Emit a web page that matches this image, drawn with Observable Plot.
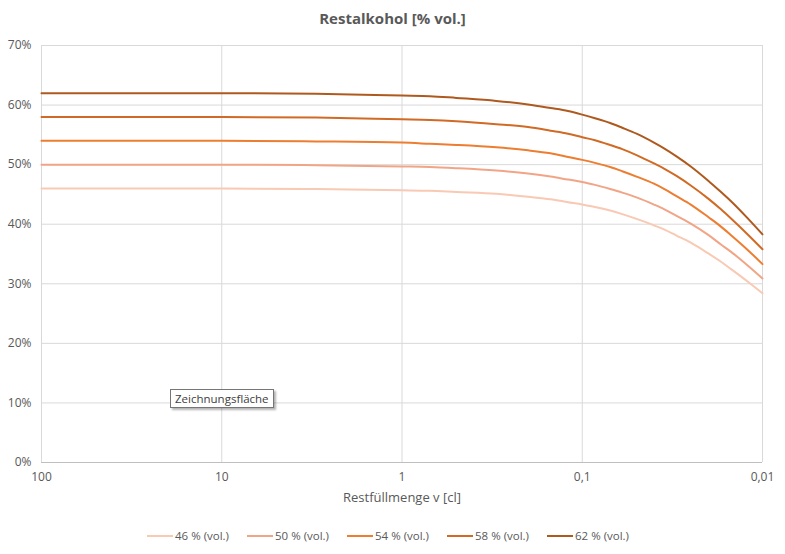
<!DOCTYPE html>
<html><head><meta charset="utf-8">
<script src="https://cdn.jsdelivr.net/npm/d3@7"></script>
<script src="https://cdn.jsdelivr.net/npm/@observablehq/plot@0.6"></script>
<style>
body{margin:0;background:#fff;font-family:"Open Sans",sans-serif;}
#wrap{position:relative;width:785px;height:554px;}
#title{height:32px;line-height:36px;text-align:center;font-size:15px;font-weight:bold;color:#595959;}
#legend{display:flex;justify-content:flex-start;font-size:11.5px;color:#595959;margin-top:13px;padding-left:147px}
#legend .it{display:flex;align-items:center;width:100px;}
#legend .sw{width:26px;height:2px;margin-right:2px}
#tip{position:absolute;left:170px;top:389px;padding:1px 4px;font-size:11.5px;color:#404040;background:#fff;border:1px solid #767676;box-shadow:2px 2px 2px rgba(0,0,0,0.3);}
svg text{font-family:"Open Sans",sans-serif}
</style></head>
<body><div id="wrap"><div id="title">Restalkohol [% vol.]</div><div id="chart"></div><div id="legend"></div><div id="tip">Zeichnungsfläche</div></div>
<script>
const xValues = [100, 30, 10, 3, 1, 0.7, 0.5, 0.3, 0.2, 0.15, 0.12, 0.1, 0.085, 0.07, 0.06, 0.05, 0.04, 0.035, 0.03, 0.025, 0.02, 0.017, 0.015, 0.012, 0.01];
const series = ["46 % (vol.)", "50 % (vol.)", "54 % (vol.)", "58 % (vol.)", "62 % (vol.)"];
const s46 = [46.0, 46.0, 46.0, 45.9, 45.7, 45.6, 45.4, 45.1, 44.6, 44.2, 43.7, 43.3, 42.9, 42.3, 41.7, 40.9, 39.8, 39.1, 38.1, 36.9, 35.1, 33.7, 32.5, 30.3, 28.4];
const s50 = [50.0, 50.0, 50.0, 49.9, 49.7, 49.6, 49.4, 49.0, 48.5, 48.0, 47.5, 47.1, 46.6, 45.9, 45.3, 44.5, 43.3, 42.5, 41.4, 40.1, 38.2, 36.6, 35.4, 33.0, 30.9];
const s54 = [54.0, 54.0, 54.0, 53.9, 53.7, 53.5, 53.3, 52.9, 52.4, 51.9, 51.3, 50.8, 50.3, 49.6, 48.9, 48.0, 46.8, 45.9, 44.7, 43.3, 41.2, 39.6, 38.2, 35.6, 33.3];
const s58 = [58.0, 58.0, 58.0, 57.9, 57.6, 57.5, 57.3, 56.8, 56.3, 55.7, 55.2, 54.6, 54.1, 53.3, 52.6, 51.6, 50.2, 49.3, 48.1, 46.5, 44.3, 42.5, 41.0, 38.2, 35.8];
const s62 = [62.0, 62.0, 62.0, 61.9, 61.6, 61.5, 61.2, 60.7, 60.1, 59.5, 59.0, 58.4, 57.8, 57.0, 56.2, 55.2, 53.7, 52.7, 51.4, 49.7, 47.3, 45.4, 43.9, 40.9, 38.3];
const colors = ["#f8c9b3", "#f1a586", "#ed7d31", "#d06a25", "#ae5a1f"];
const xTicks = [100, 10, 1, 0.1, 0.01];
const yTicks = [0, 10, 20, 30, 40, 50, 60, 70];

const all = [s46, s50, s54, s58, s62];
const data = [];
all.forEach((arr, i) => arr.forEach((v, j) => data.push({x: xValues[j], y: v, s: series[i]})));

const chart = Plot.plot({
  width: 785, height: 483,
  marginLeft: 41, marginRight: 23, marginTop: 13, marginBottom: 53,
  style: {fontSize: "12px", color: "#595959", fontFamily: "Open Sans"},
  x: {type: "log", domain: [100, 0.01], ticks: xTicks, tickFormat: d => String(d).replace(".", ","), label: null},
  y: {domain: [0, 70], ticks: yTicks, tickFormat: d => d + "%", label: null},
  color: {domain: series, range: colors},
  marks: [
    Plot.gridX(xTicks, {stroke: "#d9d9d9", strokeOpacity: 1}),
    Plot.gridY(yTicks.filter(d => d > 0), {stroke: "#d9d9d9", strokeOpacity: 1}),
    Plot.ruleY([0], {stroke: "#bfbfbf"}),
    Plot.axisX({ticks: xTicks, tickSize: 0, tickPadding: 10, tickFormat: d => String(d).replace(".", ","), fill: "#595959"}),
    Plot.axisY({ticks: yTicks, tickSize: 0, tickPadding: 10, tickFormat: d => d + "%", fill: "#595959"}),
    Plot.text(["Restfüllmenge v [cl]"], {frameAnchor: "bottom", lineAnchor: "middle", dy: 35, fontSize: 13, fill: "#595959"}),
    Plot.line(data, {x: "x", y: "y", z: "s", stroke: "s", strokeWidth: 2, curve: "monotone-x"})
  ]
});
document.getElementById("chart").appendChild(chart);

const leg = document.getElementById("legend");
series.forEach((s, i) => {
  const it = document.createElement("div"); it.className = "it";
  it.innerHTML = `<span class="sw" style="background:${colors[i]}"></span><span>${s}</span>`;
  leg.appendChild(it);
});
</script></body></html>
